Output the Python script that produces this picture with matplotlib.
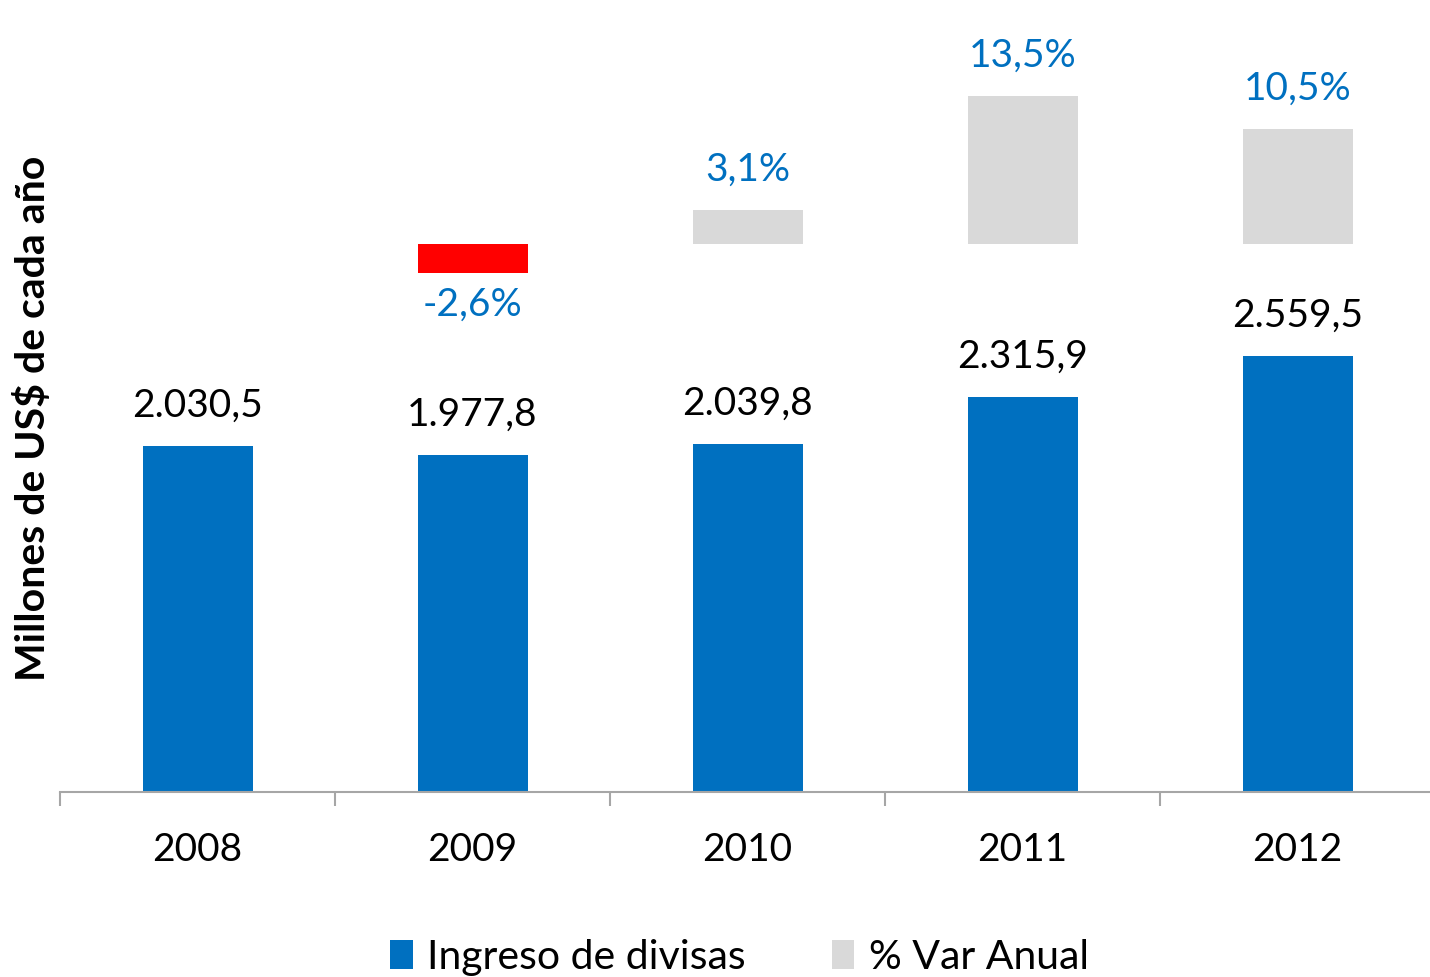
import matplotlib
matplotlib.use("Agg")
import matplotlib.pyplot as plt
from matplotlib.patches import Patch
import numpy as np

plt.rcParams["font.family"] = ["Lato", "DejaVu Sans"]

# Data
years = ["2008", "2009", "2010", "2011", "2012"]
ingreso = [2030.5, 1977.8, 2039.8, 2315.9, 2559.5]
ingreso_labels = ["2.030,5", "1.977,8", "2.039,8", "2.315,9", "2.559,5"]
var_anual = [None, -2.6, 3.1, 13.5, 10.5]
var_labels = ["", "-2,6%", "3,1%", "13,5%", "10,5%"]

blue = "#0070C0"
gray = "#D9D9D9"
red = "#FF0000"

fig = plt.figure(figsize=(14.3, 9.77), dpi=100)
ax = fig.add_axes([60 / 1430, 185 / 977, 1375 / 1430, 767 / 977])
ax2 = ax.twinx()

x = np.arange(len(years))
width = 0.4

# Main bars
bars = ax.bar(x, ingreso, width=width, color=blue, zorder=2)
ax.set_ylim(0, 4500)
ax.set_xlim(-0.5, len(years) - 0.5)

for xi, v, lab in zip(x, ingreso, ingreso_labels):
    ax.annotate(lab, (xi, v), xytext=(0, 16), textcoords="offset points",
                ha="center", va="bottom", fontsize=28, color="black")

# Annual variation bars on secondary axis
ax2.set_ylim(-50, 20)
for xi, v, lab in zip(x, var_anual, var_labels):
    if v is None:
        continue
    col = red if v < 0 else gray
    ax2.bar(xi, v, width=width, color=col, zorder=2)
    if v < 0:
        ax2.annotate(lab, (xi, v), xytext=(0, -10), textcoords="offset points",
                     ha="center", va="top", fontsize=28, color=blue)
    else:
        ax2.annotate(lab, (xi, v), xytext=(0, 16), textcoords="offset points",
                     ha="center", va="bottom", fontsize=28, color=blue)

# Axes styling
for a in (ax, ax2):
    for s in ["top", "right", "left"]:
        a.spines[s].set_visible(False)
    a.set_yticks([])
ax2.spines["bottom"].set_visible(False)
ax.spines["bottom"].set_color("#A6A6A6")
ax.spines["bottom"].set_linewidth(1.5)

ax.set_xticks(x)
ax.set_xticklabels(years, fontsize=28)
ax.tick_params(axis="x", which="major", length=0, pad=29)
ax.set_xticks(np.arange(-0.5, len(years), 1.0), minor=True)
ax.tick_params(axis="x", which="minor", length=10, width=1.5, color="#A6A6A6")

fig.text(33 / 1430, 1 - 418 / 977, "Millones de US$ de cada año", rotation=90,
         ha="center", va="center", fontsize=29.5, fontweight="bold")

handles = [Patch(facecolor=blue, label="Ingreso de divisas"),
           Patch(facecolor=gray, label="% Var Anual")]
fig.legend(handles=handles, loc="center", bbox_to_anchor=(0.517, 0.02), ncol=2,
           frameon=False, fontsize=29.5, handlelength=0.55, handleheight=0.7,
           handletextpad=0.35, columnspacing=2.1)

fig.savefig("out.png", dpi=100)
